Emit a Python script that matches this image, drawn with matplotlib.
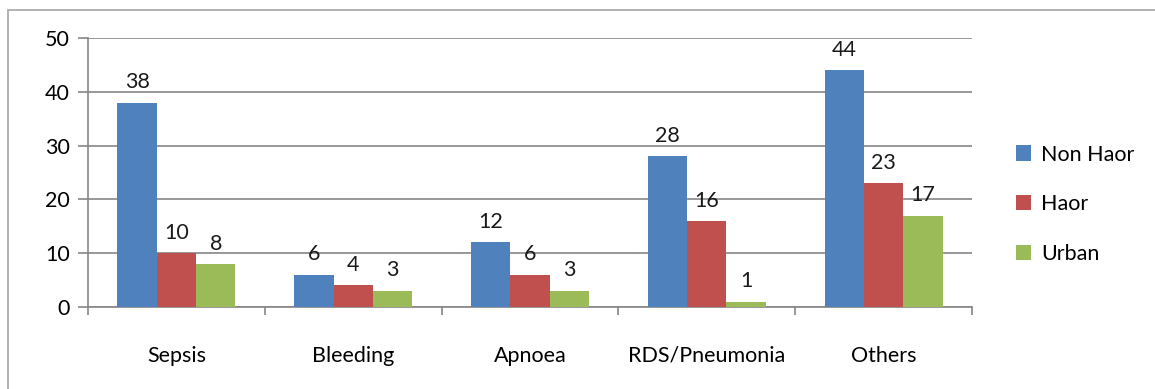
import matplotlib.pyplot as plt
import numpy as np
from matplotlib.patches import Rectangle

plt.rcParams['font.family'] = ['Lato', 'DejaVu Sans']

# 分类与各组数据
categories = ['Sepsis', 'Bleeding', 'Apnoea', 'RDS/Pneumonia', 'Others']
series_names = ['Non Haor', 'Haor', 'Urban']
non_haor = [38, 6, 12, 28, 44]
haor = [10, 4, 6, 16, 23]
urban = [8, 3, 3, 1, 17]
colors = ['#4F81BD', '#C0504D', '#9BBB59']
fs = 15.5

fig = plt.figure(figsize=(11.55, 3.89), dpi=100)
# 外框(右边和下边超出画面)
fig.patches.append(Rectangle((8 / 1155, -0.05), 1.1, 1 - 10 / 389 + 0.05,
                             transform=fig.transFigure, fill=False,
                             edgecolor='#A6A6A6', linewidth=1.2))
ax = fig.add_axes([88 / 1155, 1 - 307 / 389, (972 - 88) / 1155, (307 - 38) / 389])

x = np.arange(len(categories))
w = 1 / 4.5  # 间隙宽度 150%
for i, (vals, name) in enumerate(zip([non_haor, haor, urban], series_names)):
    pos = x + (i - 1) * w
    bars = ax.bar(pos, vals, width=w, color=colors[i], label=name, zorder=3)
    for b, v in zip(bars, vals):
        ax.annotate(str(v), (b.get_x() + b.get_width() / 2, v),
                    xytext=(0, 7.5), textcoords='offset points',
                    ha='center', va='bottom', fontsize=fs, color='#1a1a1a')

ax.set_xlim(-0.5, len(categories) - 0.5)
ax.set_ylim(0, 50)
ax.set_yticks(range(0, 51, 10))
ax.yaxis.grid(True, color='#868686', linewidth=1.2, zorder=0)
ax.set_xticks(x)
ax.set_xticklabels(categories, fontsize=fs)
ax.set_xticks(np.arange(-0.5, len(categories)), minor=True)
ax.tick_params(axis='x', which='major', length=0, pad=28)
ax.tick_params(axis='x', which='minor', length=6, color='#868686', width=1.2)
ax.tick_params(axis='y', length=7, color='#868686', width=1.2, labelsize=fs, pad=6)

for s in ['top', 'right']:
    ax.spines[s].set_visible(False)
for s in ['left', 'bottom']:
    ax.spines[s].set_color('#868686')
    ax.spines[s].set_linewidth(1.2)

fig.legend(loc='center left', bbox_to_anchor=(997 / 1155, 0.475), frameon=False,
           fontsize=fs, handlelength=0.7, handleheight=0.7, labelspacing=1.38,
           handletextpad=0.45)

fig.savefig('out.png', dpi=100)
